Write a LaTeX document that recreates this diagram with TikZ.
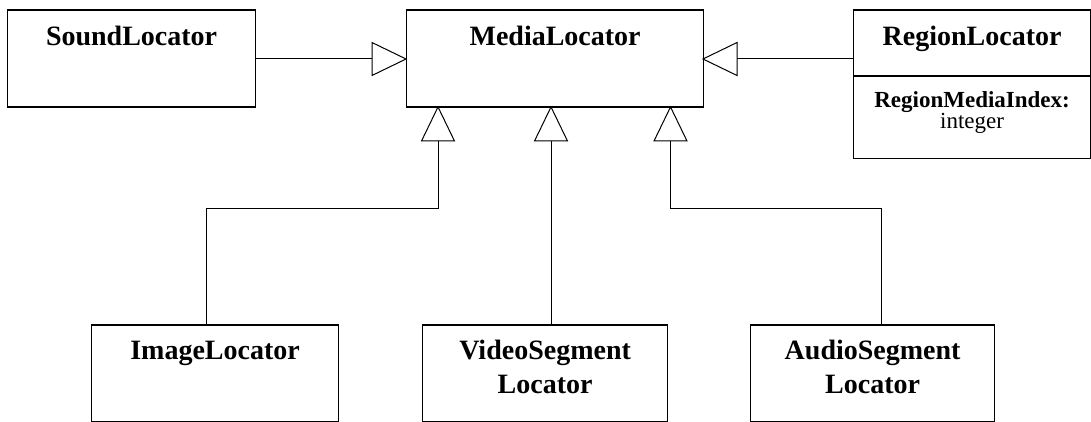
\documentclass[tikz,border=0pt]{standalone}
\usepackage{fontspec}
\setmainfont{Liberation Serif}
\usetikzlibrary{positioning}
\tikzset{
    classnode/.style = {draw, rectangle, inner sep=0pt, anchor=north west,
      text height=17.5pt, text depth=31pt, align=center,
      font=\fontsize{14}{16.7}\selectfont\bfseries},
    twolinenode/.style = {classnode, text height=34.2pt, text depth=14.3pt},
    headnode/.style = {draw, rectangle, inner sep=0pt, anchor=north west,
      text height=17.75pt, text depth=15pt, align=center,
      font=\fontsize{14}{16.7}\selectfont\bfseries},
    attrnode/.style = {draw, rectangle, inner sep=0pt, anchor=north,
      text height=25.85pt, text depth=15pt, align=center,
      font=\fontsize{11.5}{10.4}\selectfont},
    inherits/.style = {draw, line width=0.5pt},
    every node/.style = {line width=0.6pt}
}
\begin{document}
\begin{tikzpicture}[x=0.5pt, y=-0.5pt]
\useasboundingbox (0,0) rectangle (1091,422);

% classes
\node[classnode, name=media, minimum width=148.5pt] at (406,9.5) {MediaLocator};
\node[classnode, name=sound, minimum width=124pt] at (7,9.5) {SoundLocator};
\node[headnode, name=region, minimum width=118.5pt] at (853,9.5) {RegionLocator};
\node[attrnode, name=regionattr, minimum width=118.5pt] at (region.south)
	{\textbf{RegionMediaIndex:}\\integer};

\node[classnode, name=image, minimum width=123.5pt] at (91,324.3) {ImageLocator};
\node[twolinenode, name=video, minimum width=122.5pt] at (422,324.3) {VideoSegment\\Locator};
\node[twolinenode, name=audio, minimum width=122pt] at (750,324.3) {AudioSegment\\Locator};

% generalizations
\coordinate (m1) at (438,107);
\coordinate (m2) at (551,107);
\coordinate (m3) at (670.5,107);

\draw[inherits] (sound.east |- 0,59) -- (372,59);
\draw[inherits, fill=white] (406,59) -- (372,42.5) -- (372,75.5) -- cycle;
\draw[inherits] (region.west |- 0,59) -- (737,59);
\draw[inherits, fill=white] (703,59) -- (737,42.5) -- (737,75.5) -- cycle;

\draw[inherits] (image.north -| 206.7,0) |- (438,208.3) -- (438,141);
\draw[inherits] (video.north -| 551,0) -- (551,141);
\draw[inherits] (audio.north -| 881,0) |- (670.5,208.3) -- (670.5,141);
\foreach \p in {m1, m2, m3}
  \draw[inherits, fill=white] (\p) -- ++(-16.5,34) -- ++(33,0) -- cycle;
\end{tikzpicture}
\end{document}
